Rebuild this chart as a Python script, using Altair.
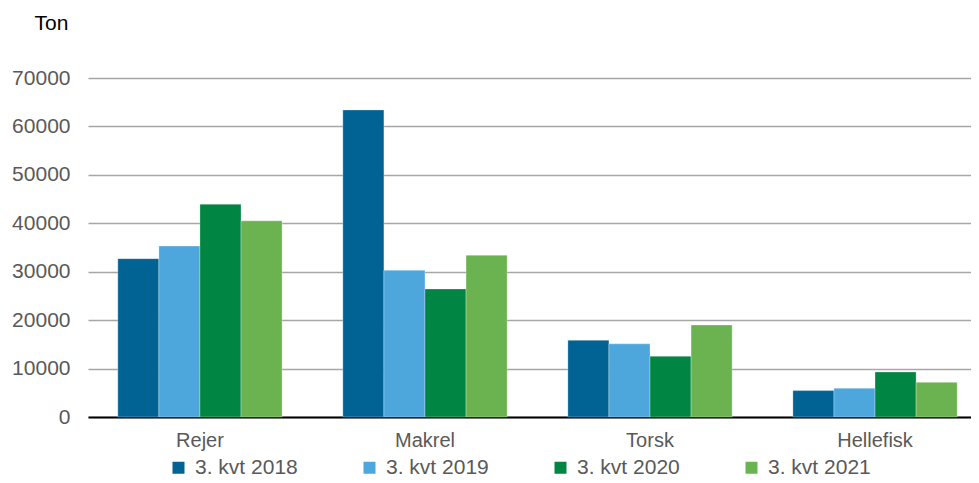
import altair as alt
import pandas as pd

categories = ["Rejer", "Makrel", "Torsk", "Hellefisk"]
years = ["3. kvt 2018", "3. kvt 2019", "3. kvt 2020", "3. kvt 2021"]
v2018 = [32700, 63400, 15850, 5450]
v2019 = [35300, 30300, 15100, 5950]
v2020 = [43950, 26450, 12550, 9300]
v2021 = [40500, 33400, 19000, 7150]
colors = ["#006394", "#4DA6DC", "#008542", "#6BB250"]
y_ticks = [0, 10000, 20000, 30000, 40000, 50000, 60000, 70000]

rows = []
for yr, vals in zip(years, [v2018, v2019, v2020, v2021]):
    for c, v in zip(categories, vals):
        rows.append({"kategori": c, "periode": yr, "ton": v})
df = pd.DataFrame(rows)

FONT = "Liberation Sans, Arial, sans-serif"

W = 883
chart = alt.Chart(df).mark_bar(stroke="white", strokeWidth=0.6, strokeOpacity=0.5).encode(
    x=alt.X("kategori:N", sort=categories,
            scale=alt.Scale(paddingInner=0.27, paddingOuter=0.097, align=0.683),
            axis=alt.Axis(title=None, labelAngle=0, ticks=False, domainColor="black",
                          domainWidth=2, labelFontSize=20, labelColor="#595959",
                          labelPadding=13, labelFont=FONT)),
    xOffset=alt.XOffset("periode:N", sort=years),
    y=alt.Y("ton:Q", scale=alt.Scale(domain=[0, 70000], nice=False),
            axis=alt.Axis(values=y_ticks, title="Ton", titleAngle=0, titleX=-54, titleY=-49,
                          titleAlign="left", titleBaseline="alphabetic", titleFontSize=21,
                          titleFontWeight="normal", titleColor="black", titleFont=FONT,
                          ticks=False, domain=False, labelFontSize=21, labelColor="#595959",
                          labelPadding=18, labelFont=FONT, gridColor="#A6A6A6", gridWidth=1.5,
                          format="d")),
    color=alt.Color("periode:N", sort=years,
                    scale=alt.Scale(domain=years, range=colors),
                    legend=alt.Legend(title=None, orient="none", legendX=80, legendY=379,
                                      direction="horizontal", symbolType="square",
                                      symbolSize=144, symbolStrokeWidth=0, labelFontSize=21,
                                      labelColor="#595959", labelFont=FONT, labelOffset=6,
                                      columnPadding=61, padding=0)),
).properties(
    width=W, height=339,
    padding={"left": 80, "top": 70, "right": 0, "bottom": 60},
    autosize=alt.AutoSizeParams(type="none"),
).configure_view(stroke=None)

chart.save("out.html", embed_options={"renderer": "svg", "actions": False})
